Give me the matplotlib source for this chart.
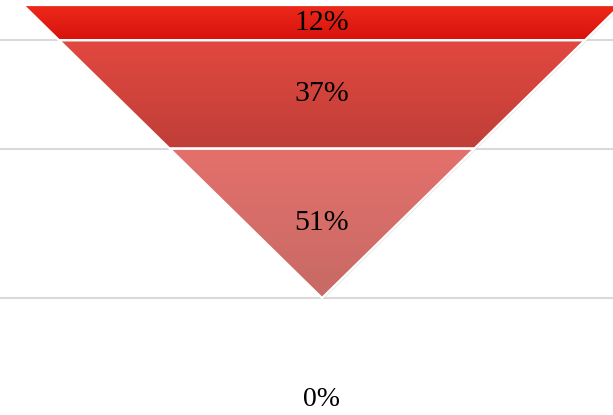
import numpy as np
import matplotlib
matplotlib.use("Agg")
import matplotlib.pyplot as plt
from matplotlib.patches import Polygon
from matplotlib.colors import LinearSegmentedColormap

# funnel stages (top to bottom)
labels = ["12%", "37%", "51%"]
values = [12, 37, 51]
top_colors = ["#ee2a1c", "#e2483f", "#e4706b"]
bottom_colors = ["#d8120c", "#bf3f38", "#c76a65"]
axis_label = "0%"

slope = 1.02  # half-width per unit of height

fig = plt.figure(figsize=(6.13, 4.15), dpi=100)
ax = fig.add_axes([0, 0, 1, 1])
ax.set_xlim(-322 / 2.93, 291 / 2.93)
ax.set_ylim(410 / 2.93, -5 / 2.93)
ax.axis("off")

cum = np.concatenate([[0], np.cumsum(values)])
total = cum[-1]

# gridlines at band boundaries
for c in cum[1:]:
    ax.axhline(c, color="#d9d9d9", lw=1.5, zorder=0)

for i, (lab, v) in enumerate(zip(labels, values)):
    c0, c1 = cum[i], cum[i + 1]
    w0 = (total - c0) * slope
    w1 = (total - c1) * slope
    pts = [(-w0, c0), (w0, c0), (w1, c1), (-w1, c1)]

    # soft shadow
    sh = Polygon([(x + 0.4, y + 0.5) for x, y in pts], closed=True,
                 facecolor="#cccccc", edgecolor="none", alpha=0.5, zorder=1)
    ax.add_patch(sh)

    poly = Polygon(pts, closed=True, facecolor="none", edgecolor="white",
                   lw=1.6, zorder=3)
    ax.add_patch(poly)
    cmap = LinearSegmentedColormap.from_list("g%d" % i, [top_colors[i], bottom_colors[i]])
    grad = np.linspace(0, 1, 100).reshape(-1, 1)
    im = ax.imshow(grad, cmap=cmap, aspect="auto", extent=[-w0, w0, c1, c0],
                   zorder=2, interpolation="bilinear")
    clip = Polygon(pts, closed=True, transform=ax.transData)
    im.set_clip_path(clip)

    ax.text(0, (c0 + c1) / 2, lab, ha="center", va="center",
            family="Liberation Serif", fontsize=21.5, color="black", zorder=4)

ax.text(0, 134.8, axis_label, ha="center", va="center",
        family="Liberation Serif", fontsize=20, color="black")

fig.savefig("out.png", dpi=100)
